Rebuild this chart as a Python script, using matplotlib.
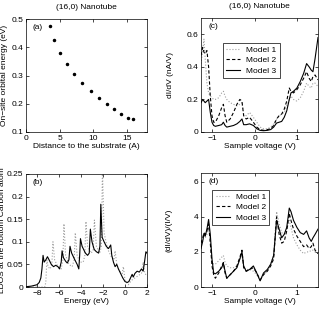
import matplotlib
matplotlib.use('Agg')
import matplotlib.pyplot as plt
from matplotlib.ticker import FormatStrFormatter, FuncFormatter

plt.rcParams['font.family'] = ['Liberation Sans', 'DejaVu Sans']
plt.rcParams['font.size'] = 6
plt.rcParams['axes.linewidth'] = 0.5
for a in ('xtick', 'ytick'):
    plt.rcParams[a + '.direction'] = 'in'
    plt.rcParams[a + '.major.size'] = 2.5
    plt.rcParams[a + '.major.width'] = 0.5
    plt.rcParams[a + '.major.pad'] = 2
plt.rcParams['xtick.top'] = True
plt.rcParams['ytick.right'] = True

# (a) on-site energy vs distance
dist = [3.5, 4.2, 5.1, 6.05, 7.1, 8.4, 9.6, 10.8, 12.0, 13.1, 14.1, 15.2, 15.85]
onsite = [0.476, 0.426, 0.381, 0.341, 0.304, 0.273, 0.245, 0.220, 0.198, 0.180, 0.165, 0.151, 0.146]

# (b) LDOS at the bottom carbon atom
e_solid = [-9.2, -8.5, -8.0, -7.8, -7.65, -7.55, -7.45, -7.35, -7.2, -7.05, -6.9, -6.7, -6.5,
           -6.3, -6.1, -5.95, -5.8, -5.72, -5.6, -5.4, -5.25, -5.1, -5.0, -4.85, -4.6, -4.35,
           -4.2, -4.12, -4.05, -3.9, -3.6, -3.4, -3.25, -3.15, -3.0, -2.8, -2.6, -2.4, -2.28,
           -2.2, -2.08, -1.9, -1.7, -1.5, -1.3, -1.2, -1.05, -0.9, -0.75, -0.6, -0.4, -0.2,
           0.0, 0.2, 0.35, 0.5, 0.65, 0.75, 0.9, 1.1, 1.3, 1.5, 1.65, 1.8, 1.9, 2.0]
ldos_solid = [0.0, 0.002, 0.005, 0.01, 0.02, 0.04, 0.07, 0.055, 0.06, 0.067, 0.06, 0.05, 0.045,
              0.048, 0.045, 0.04, 0.055, 0.08, 0.065, 0.057, 0.053, 0.06, 0.09, 0.075, 0.062, 0.05,
              0.04, 0.07, 0.107, 0.09, 0.075, 0.07, 0.075, 0.128, 0.1, 0.083, 0.078, 0.075, 0.09,
              0.183, 0.11, 0.1, 0.09, 0.085, 0.093, 0.07, 0.055, 0.045, 0.05, 0.04, 0.03, 0.02,
              0.012, 0.01, 0.012, 0.02, 0.028, 0.022, 0.03, 0.035, 0.033, 0.04, 0.035, 0.06, 0.078, 0.075]
e_dot = [-9.2, -7.3, -7.2, -7.1, -7.0, -6.8, -6.65, -6.55, -6.4, -6.1, -5.8, -5.65, -5.55, -5.4,
         -5.1, -4.8, -4.62, -4.52, -4.35, -4.1, -3.8, -3.65, -3.55, -3.4, -3.1, -2.9, -2.78, -2.6,
         -2.3, -2.15, -2.05, -1.9, -1.6, -1.2, -1.0, -0.9, -0.75, -0.5, -0.25, -0.15, 0.0, 0.3,
         0.6, 0.9, 1.2, 1.5, 1.65, 1.8, 2.0]
ldos_dot = [0.0, 0.0, 0.01, 0.06, 0.045, 0.04, 0.05, 0.10, 0.06, 0.045, 0.04, 0.06, 0.14, 0.07,
            0.05, 0.045, 0.06, 0.12, 0.07, 0.055, 0.055, 0.07, 0.145, 0.09, 0.075, 0.08, 0.148, 0.09,
            0.075, 0.09, 0.26, 0.12, 0.085, 0.065, 0.06, 0.08, 0.05, 0.035, 0.03, 0.045, 0.015, 0.005,
            0.015, 0.02, 0.025, 0.03, 0.055, 0.03, 0.025]

# (c), (d) sample voltage grid
volt = [-1.27, -1.23, -1.20, -1.17, -1.13, -1.09, -1.05, -1.01, -0.97, -0.93, -0.85, -0.78,
        -0.74, -0.70, -0.66, -0.58, -0.50, -0.42, -0.35, -0.30, -0.26, -0.20, -0.12, -0.03,
        0.05, 0.13, 0.21, 0.30, 0.38, 0.45, 0.52, 0.58, 0.64, 0.70, 0.76, 0.82, 0.86, 0.92,
        1.00, 1.08, 1.16, 1.23, 1.29, 1.34, 1.38, 1.43, 1.50]

didv_m1 = [0.42, 0.50, 0.57, 0.45, 0.30, 0.24, 0.22, 0.21, 0.20, 0.20, 0.21, 0.24, 0.25, 0.22,
           0.20, 0.18, 0.17, 0.16, 0.17, 0.18, 0.11, 0.10, 0.12, 0.09, 0.06, 0.03, 0.02, 0.02,
           0.03, 0.05, 0.08, 0.10, 0.11, 0.12, 0.16, 0.20, 0.22, 0.20, 0.19, 0.21, 0.25, 0.30,
           0.28, 0.27, 0.30, 0.30, 0.28]
didv_m2 = [0.47, 0.52, 0.49, 0.48, 0.50, 0.40, 0.22, 0.10, 0.06, 0.06, 0.10, 0.15, 0.17, 0.10,
           0.06, 0.08, 0.12, 0.17, 0.20, 0.19, 0.10, 0.08, 0.09, 0.06, 0.03, 0.015, 0.01, 0.015,
           0.02, 0.04, 0.08, 0.10, 0.11, 0.14, 0.19, 0.27, 0.25, 0.24, 0.26, 0.29, 0.33, 0.37,
           0.33, 0.31, 0.34, 0.35, 0.32]
didv_m3 = [0.18, 0.20, 0.19, 0.18, 0.19, 0.20, 0.12, 0.06, 0.04, 0.035, 0.04, 0.045, 0.06, 0.04,
           0.03, 0.035, 0.04, 0.05, 0.065, 0.08, 0.045, 0.045, 0.05, 0.04, 0.02, 0.01, 0.008, 0.01,
           0.015, 0.03, 0.055, 0.06, 0.065, 0.09, 0.13, 0.20, 0.24, 0.25, 0.27, 0.31, 0.36, 0.42,
           0.40, 0.38, 0.37, 0.45, 0.58]

norm_m1 = [2.4, 2.6, 2.9, 2.8, 3.0, 3.4, 2.6, 1.5, 1.3, 1.3, 1.5, 1.7, 1.8, 1.4, 1.2, 1.1, 1.1,
           1.2, 1.6, 1.8, 1.1, 1.0, 1.0, 0.9, 0.7, 0.4, 0.7, 0.9, 1.3, 1.8, 4.3, 3.6, 3.1, 3.0,
           3.3, 3.8, 3.4, 2.8, 2.4, 2.1, 1.9, 2.0, 2.0, 2.1, 2.1, 2.0, 1.9]
norm_m2 = [2.5, 2.8, 3.1, 3.0, 3.2, 3.6, 2.5, 1.2, 0.7, 0.5, 0.8, 1.2, 1.4, 0.8, 0.5, 0.7, 0.9,
           1.2, 1.7, 2.1, 1.1, 0.9, 1.0, 1.1, 0.8, 0.4, 0.7, 0.9, 1.2, 1.6, 4.0, 3.0, 2.5, 2.6,
           3.2, 4.2, 3.8, 3.3, 2.9, 2.6, 2.3, 2.4, 2.2, 2.3, 2.5, 2.1, 1.9]
norm_m3 = [2.2, 2.6, 3.05, 2.9, 3.3, 3.85, 3.0, 1.6, 0.8, 0.75, 0.9, 1.1, 1.35, 0.9, 0.5, 0.7,
           0.9, 1.1, 1.6, 2.0, 1.2, 0.9, 1.0, 1.2, 0.8, 0.35, 0.8, 1.0, 1.3, 1.8, 3.8, 3.3, 2.8,
           3.0, 3.4, 4.5, 4.3, 3.8, 3.4, 3.1, 3.0, 3.2, 2.8, 2.6, 2.8, 3.0, 3.3]

labels = ['Model 1', 'Model 2', 'Model 3']
grey = '#a0a0a0'
W, H = 319, 309

fig = plt.figure(figsize=(W / 100, H / 100), dpi=100)


def box(l, t, r, b):
    return [l / W, (H - b) / H, (r - l) / W, (b - t) / H]


ax_a = fig.add_axes(box(26, 19, 147, 132))
ax_b = fig.add_axes(box(26, 174, 147, 287))
ax_c = fig.add_axes(box(201, 18, 318, 132))
ax_d = fig.add_axes(box(201, 173, 318, 287))

g = FuncFormatter(lambda v, p: '%g' % round(v, 4))

ax_a.plot(dist, onsite, 'k.', markersize=3)
ax_a.set_xlim(0, 18)
ax_a.set_ylim(0.1, 0.5)
ax_a.set_xticks([0, 5, 10, 15])
ax_a.set_yticks([0.1, 0.2, 0.3, 0.4, 0.5])
ax_a.yaxis.set_major_formatter(FormatStrFormatter('%.1f'))
ax_a.set_xlabel('Distance to the substrate (A)', labelpad=1)
ax_a.set_ylabel('On\u2212site orbital energy (eV)')
ax_a.yaxis.set_label_coords(-0.15, 0.5)
ax_a.set_title('(16,0) Nanotube', fontsize=6, pad=7)
ax_a.text(0.05, 0.96, '(a)', transform=ax_a.transAxes, va='top')

ax_b.plot(e_dot, ldos_dot, ':', color=grey, lw=0.8)
ax_b.plot(e_solid, ldos_solid, '-', color='k', lw=0.8)
ax_b.set_xlim(-9, 2)
ax_b.set_ylim(0, 0.25)
ax_b.set_xticks([-8, -6, -4, -2, 0, 2])
ax_b.set_yticks([0, 0.05, 0.1, 0.15, 0.2, 0.25])
ax_b.yaxis.set_major_formatter(g)
ax_b.set_xlabel('Energy (eV)', labelpad=1)
ax_b.set_ylabel('LDOS at the bottom Carbon atom')
ax_b.yaxis.set_label_coords(-0.165, 0.5)
ax_b.text(0.05, 0.96, '(b)', transform=ax_b.transAxes, va='top')

for ax, ys in ((ax_c, (didv_m1, didv_m2, didv_m3)), (ax_d, (norm_m1, norm_m2, norm_m3))):
    ax.plot(volt, ys[0], ':', color=grey, lw=0.8, label=labels[0])
    ax.plot(volt, ys[1], '--', color='k', lw=0.8, dashes=(3, 2), label=labels[1])
    ax.plot(volt, ys[2], '-', color='k', lw=0.8, label=labels[2])
    ax.set_xlim(-1.27, 1.5)
    ax.set_xticks([-1, 0, 1])
    ax.set_xlabel('Sample voltage (V)', labelpad=1)

ax_c.set_ylim(0, 0.7)
ax_c.set_yticks([0, 0.2, 0.4, 0.6])
ax_c.yaxis.set_major_formatter(g)
ax_c.set_ylabel('dI/dV (nA/V)')
ax_c.yaxis.set_label_coords(-0.23, 0.5)
ax_c.set_title('(16,0) Nanotube', fontsize=6, pad=7)
ax_c.text(0.06, 0.96, '(c)', transform=ax_c.transAxes, va='top')
ax_c.legend(loc='upper left', bbox_to_anchor=(0.15, 0.82), fontsize=6, frameon=True,
            fancybox=False, edgecolor='k', framealpha=1, handlelength=1.7,
            borderpad=0.4, labelspacing=0.3, handletextpad=0.7).get_frame().set_linewidth(0.5)

ax_d.set_ylim(0, 6.5)
ax_d.set_yticks([0, 2, 4, 6])
ax_d.set_ylabel('(dI/dV)/(I/V)')
ax_d.yaxis.set_label_coords(-0.24, 0.5)
ax_d.text(0.06, 0.96, '(d)', transform=ax_d.transAxes, va='top')
ax_d.legend(loc='upper left', bbox_to_anchor=(0.06, 0.89), fontsize=6, frameon=True,
            fancybox=False, edgecolor='k', framealpha=1, handlelength=1.7,
            borderpad=0.4, labelspacing=0.3, handletextpad=0.7).get_frame().set_linewidth(0.5)

fig.savefig('out.png', dpi=100)
